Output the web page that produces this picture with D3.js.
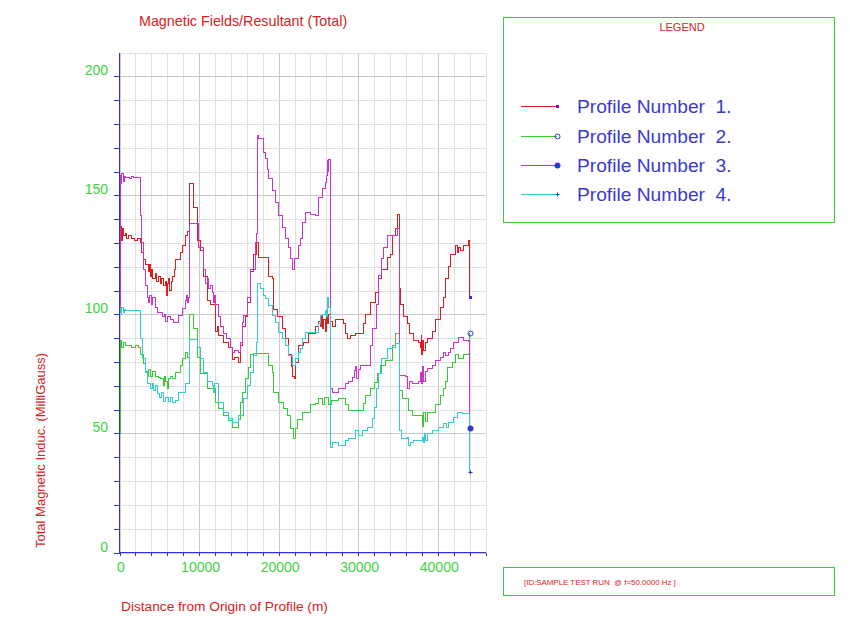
<!DOCTYPE html>
<html><head><meta charset="utf-8">
<script src="https://cdn.jsdelivr.net/npm/d3@7"></script>
<style>
body{margin:0;background:#fff;}
text{font-family:"Liberation Sans",Arial,sans-serif;white-space:pre;}
</style></head>
<body><svg id="chart" width="850" height="625"></svg>
<script>
// ---- data (distance m, total induction mG) ----
const seriesNames = ["Profile Number  1.","Profile Number  2.","Profile Number  3.","Profile Number  4."];
const seriesColors = ["#dc1e1e","#33cc33","#cc33cc","#33cccc"];
const xTickValues = [0,10000,20000,30000,40000];
const yTickValues = [0,50,100,150,200];

const profile1 = [[0,133],[90,137],[200,131],[340,136],[500,133],[700,134],[900,132],[1100,133],[1500,132],[1900,131],[2300,132],[2600,130],[2730,126],[2980,123],[3230,121],[3600,118],[3750,121],[3860,116],[4000,119],[4200,115],[4490,117],[4700,114],[4870,116],[5120,113],[5300,115],[5500,112],[5750,114],[5900,108],[6000,113],[6130,115],[6300,110],[6500,114],[6630,116],[6900,119],[7100,123],[7640,126],[7900,129],[8260,133],[8500,135],[8770,155],[9270,145],[9770,131],[10150,127],[10530,116],[11030,106],[11400,104],[12040,93],[12300,95],[12420,91],[13040,88],[13670,86],[14180,81],[14500,82],[14930,80],[15180,87],[15430,95],[15810,99],[16060,105],[16440,118],[16820,125],[17190,130],[17450,124],[18700,116],[19210,115],[19330,102],[19840,99],[20470,94],[20840,90],[21220,83],[21600,78],[21720,74],[21970,73],[22100,80],[22480,87],[23110,88],[23740,92],[24620,95],[25000,97],[25250,95],[25400,99],[25500,94],[25700,98],[25870,93],[26000,99],[26130,96],[26300,100],[26500,97],[26750,95],[27130,98],[28010,98],[28140,96],[28390,92],[28640,90],[29020,91],[29650,92],[30280,92],[30650,96],[30910,100],[31540,105],[32160,109],[32540,115],[32920,119],[33670,124],[34050,125],[34300,133],[34680,136],[34930,142],[35180,111],[35310,104],[35690,99],[36190,96],[36400,92],[36940,89],[37570,88],[37820,86],[37900,91],[38000,83],[38100,89],[38200,85],[38400,88],[38710,90],[39330,93],[39710,98],[40340,103],[40720,107],[40970,115],[41350,120],[41600,125],[42230,129],[42480,126],[42600,128],[42860,127],[43230,129],[43860,131],[43990,107.5]];

const profile2 = [[0,50],[90,89],[300,86],[500,88],[700,87],[1000,87],[1500,86],[2000,87],[2350,86],[2600,83],[2980,79.5],[3230,76],[3500,74],[3700,77],[3860,74],[4100,76],[4490,74],[4870,73.5],[5120,73],[5500,70],[5600,74],[5750,72],[6000,69],[6130,73],[6380,74],[6630,73],[7010,75.5],[7640,78.5],[7900,81.5],[8260,84],[8520,82],[8770,100],[9270,94],[9770,82],[10150,75],[10530,75],[11030,69],[12040,63],[12420,60.5],[13040,57.5],[13670,55.5],[14180,52.5],[14930,56],[15180,63],[15430,67],[15810,73],[16190,77.5],[16440,83],[16820,83.5],[18700,78.5],[19210,75.5],[19330,67],[19960,63],[20590,60.5],[21090,57.5],[21470,52],[21850,48],[22100,52],[22350,56],[22980,59],[23990,62],[24620,62.5],[25000,64.5],[25500,62],[25800,65],[26300,62],[26600,64],[27500,64.5],[28010,64.5],[28390,62],[28770,59.5],[30650,62.5],[30910,66],[31540,69],[32000,71.5],[32420,75],[32790,78.5],[33420,80.5],[34300,87],[34680,92],[35180,68],[35600,64.5],[36320,59.5],[36820,57.5],[37820,57.5],[38080,53],[38200,59],[38400,55],[38710,59],[39710,62],[40340,66],[40720,69],[40970,72],[41220,77.5],[41850,80],[42230,83],[42600,81.5],[43230,83],[43860,83.5],[43990,92]];

const profile3 = [[0,101],[90,158.5],[200,155],[300,159],[450,156],[600,158],[800,157.5],[1200,157],[1500,158],[1800,157.5],[2600,141.5],[2730,130],[2980,119],[3230,112],[3500,107],[3610,105],[3800,108],[4000,104],[4200,107],[4490,103],[4740,101],[5370,99],[5600,100],[5750,97],[6000,99],[6380,98],[6750,96.5],[7380,99.5],[7890,102.5],[8260,106],[8400,108],[8520,105],[8640,107],[8770,138],[9900,128],[10530,119],[10780,113],[11030,115],[11160,111],[11410,112],[11660,109],[11790,105],[11900,108],[12040,104],[12420,99],[12700,95],[13040,92],[13400,90],[13920,86],[14180,84],[14500,85],[14930,84],[15180,88],[15430,96.5],[15560,99.5],[16060,107],[16440,119],[17070,130],[17190,134],[17320,175],[17450,174],[18080,168],[18330,165.5],[18580,161],[18700,157],[19210,152],[19580,147],[19960,141.5],[20470,136.5],[20840,132],[21220,128],[21470,123.5],[21720,119],[22000,123.5],[22480,129],[22730,132],[22980,138.6],[23360,143],[24000,142],[24620,141.5],[25000,149],[25500,153],[25870,155.5],[26000,158.5],[26130,164.5],[26200,160],[26300,165],[26500,69],[26750,67],[27510,69],[28390,71],[28770,72],[29270,73.5],[29500,76.5],[29650,78],[29800,73],[30000,77],[30280,78.5],[31160,78.5],[31540,87],[31800,94],[32290,104],[32540,116.5],[32920,123.5],[33200,128],[33670,133],[34300,133],[34930,136],[35180,74.4],[35940,74],[36190,69],[36400,72],[36820,71],[37570,72],[37820,75.6],[38000,71],[38100,78],[38200,72],[38400,76],[38710,77.3],[39330,78.6],[39710,80.7],[40340,82],[40700,84],[41000,82.8],[41350,84],[41600,85.7],[41970,88.2],[42600,90.3],[43230,89],[43860,88.5],[43990,52.5]];

const profile4 = [[0,101],[90,102.5],[200,100],[300,103],[450,101],[600,102],[800,101.7],[2350,101.7],[2600,90],[2850,81.5],[3230,75.6],[3480,71],[3860,69],[4100,71],[4300,68],[4490,70],[4740,66.8],[5000,65],[5300,67],[5500,63.5],[5750,65],[6100,63.5],[6380,65],[6630,63],[7010,64],[7400,67],[7640,67],[8260,71],[8770,89.5],[9770,86],[10150,81.5],[10530,75.6],[11000,72],[11410,72],[11660,70],[11790,67],[12000,71],[12420,63],[13040,58.8],[13670,56.3],[14180,54.6],[14930,57.6],[15560,64.7],[16060,70.2],[16440,75.6],[16820,82.8],[17190,88.2],[17320,113],[17700,111],[18080,108],[18330,106.7],[18700,103.8],[19210,99.6],[19580,96.6],[19960,92.4],[20470,90],[20840,87],[21220,82.8],[21720,78.6],[22100,81.5],[22480,84],[22730,85.7],[22980,90],[23360,92.4],[25000,96.2],[25250,99.6],[25500,100],[25870,101.7],[26000,99],[26130,107],[26250,103],[26500,44],[26750,46],[27510,45],[28390,47],[28770,48],[29650,51.3],[30000,49],[30530,51.3],[31160,52.5],[31790,56.3],[32000,61],[32290,69],[32540,75.2],[32920,81.5],[33670,85.7],[34300,86],[34680,87.8],[35180,51.3],[35400,48],[36190,48.5],[36320,45],[36600,46],[36940,47],[38080,48.3],[38200,46],[38300,50],[38400,47],[38710,50],[39330,51.3],[40090,52.5],[40720,54.2],[41100,52.5],[41350,54.6],[41970,56.7],[42480,58.8],[43110,58.4],[43860,58.4],[43990,33.6]];

const allProfiles = [profile1, profile2, profile3, profile4];
const markerTypes = ["square","opencircle","bigcircle","plus"];

// ---- layout ----
const svg = d3.select("#chart");
const x = d3.scaleLinear().domain([0,46000]).range([119.5,485.5]);
const y = d3.scaleLinear().domain([0,210]).range([552.5,52.5]);
const blue = "#3333cc", red = "#d42222", green = "#3fd23f";

// gridlines
const gx = d3.range(0,46001,2000), gy = d3.range(0,211,10);
svg.append("g").selectAll("line").data(gx).join("line")
  .attr("x1",d=>Math.round(x(d))+0.5).attr("x2",d=>Math.round(x(d))+0.5)
  .attr("y1",y(0)).attr("y2",y(210))
  .attr("stroke",d=>d%10000===0?"#c8c8c8":"#e0e0e0").attr("shape-rendering","crispEdges");
svg.append("g").selectAll("line").data(gy).join("line")
  .attr("y1",d=>Math.round(y(d))+0.5).attr("y2",d=>Math.round(y(d))+0.5)
  .attr("x1",x(0)).attr("x2",x(46000))
  .attr("stroke",d=>d%50===0?"#c8c8c8":"#e0e0e0").attr("shape-rendering","crispEdges");

// axes
const yAxis = d3.axisLeft(y).tickValues(d3.range(0,201,10)).tickSize(6).tickFormat("");
const xAxis = d3.axisBottom(x).tickValues(d3.range(0,46001,2000)).tickSize(3).tickFormat("");
const ya = svg.append("g").attr("transform","translate(119.5,0)").call(yAxis);
const xa = svg.append("g").attr("transform","translate(0,552.5)").call(xAxis);
[ya,xa].forEach(a=>{a.selectAll("path,line").attr("stroke",blue).attr("shape-rendering","crispEdges");});
ya.select(".domain").attr("d",`M-0,${y(210)}V${y(0)}`);
xa.select(".domain").attr("d",`M${x(0)},0H${x(46000)}`);

// tick labels
svg.append("g").selectAll("text").data(yTickValues).join("text")
  .attr("x",108).attr("y",d=>y(d)-1).attr("text-anchor","end")
  .attr("font-size",14).attr("fill",green).text(d=>d);
svg.append("g").selectAll("text").data(xTickValues).join("text")
  .attr("x",d=>x(d)+1.5).attr("y",572).attr("text-anchor","middle")
  .attr("font-size",14).attr("fill",green).text(d=>d);

// titles
svg.append("text").attr("x",139).attr("y",26).attr("font-size",14.3).attr("fill",red)
  .text("Magnetic Fields/Resultant (Total)");
svg.append("text").attr("transform","translate(45,548) rotate(-90)").attr("font-size",13).attr("fill",red)
  .text("Total Magnetic Induc. (MilliGauss)");
svg.append("text").attr("x",121).attr("y",611).attr("font-size",13.7).attr("fill",red)
  .text("Distance from Origin of Profile (m)");

// lines
const line = d3.line().x(d=>x(d[0])).y(d=>y(d[1])).curve(d3.curveStepAfter);
const plot = svg.append("g");
allProfiles.forEach((p,i)=>{
  plot.append("path").datum(p).attr("d",line).attr("fill","none")
    .attr("stroke",seriesColors[i]).attr("stroke-width",1).attr("shape-rendering","crispEdges");
});

function drawMarker(g, type, cx, cy){
  cx = Math.round(cx)+0.5; cy = Math.round(cy)+0.5;
  if(type==="square") g.append("rect").attr("x",cx-1.5).attr("y",cy-1.5).attr("width",3).attr("height",3).attr("fill",blue);
  else if(type==="opencircle") g.append("circle").attr("cx",cx).attr("cy",cy).attr("r",2.5).attr("fill","none").attr("stroke",blue);
  else if(type==="bigcircle") g.append("circle").attr("cx",cx).attr("cy",cy).attr("r",2.6).attr("fill",blue).attr("stroke",blue);
  else { g.append("path").attr("d",`M${cx-2},${cy}H${cx+2}M${cx},${cy-2}V${cy+2}`).attr("stroke",blue); }
}
allProfiles.forEach((p,i)=>{
  const last = p[p.length-1];
  drawMarker(plot, markerTypes[i], x(last[0]), y(last[1]));
});

// legend
svg.append("rect").attr("x",503.5).attr("y",17.5).attr("width",331).attr("height",205)
  .attr("fill","none").attr("stroke","#33cc33");
svg.append("text").attr("x",682).attr("y",31).attr("text-anchor","middle").attr("font-size",11).attr("fill",red).text("LEGEND");
const legY = [106,136,165,194];
seriesNames.forEach((n,i)=>{
  const g = svg.append("g");
  g.append("line").attr("x1",521).attr("x2",557).attr("y1",legY[i]+0.5).attr("y2",legY[i]+0.5)
    .attr("stroke",seriesColors[i]).attr("shape-rendering","crispEdges");
  drawMarker(g, markerTypes[i], 557, legY[i]);
  g.append("text").attr("x",577).attr("y",legY[i]+6.5).attr("font-size",19.2).attr("fill","#3a3acc").text(n);
});

// info box
svg.append("rect").attr("x",503.5).attr("y",567.5).attr("width",331).attr("height",28)
  .attr("fill","none").attr("stroke","#33cc33");
svg.append("text").attr("x",524).attr("y",585).attr("font-size",7.9).attr("fill",red)
  .text("[ID:SAMPLE TEST RUN  @ f=50.0000 Hz ]");
</script></body></html>
